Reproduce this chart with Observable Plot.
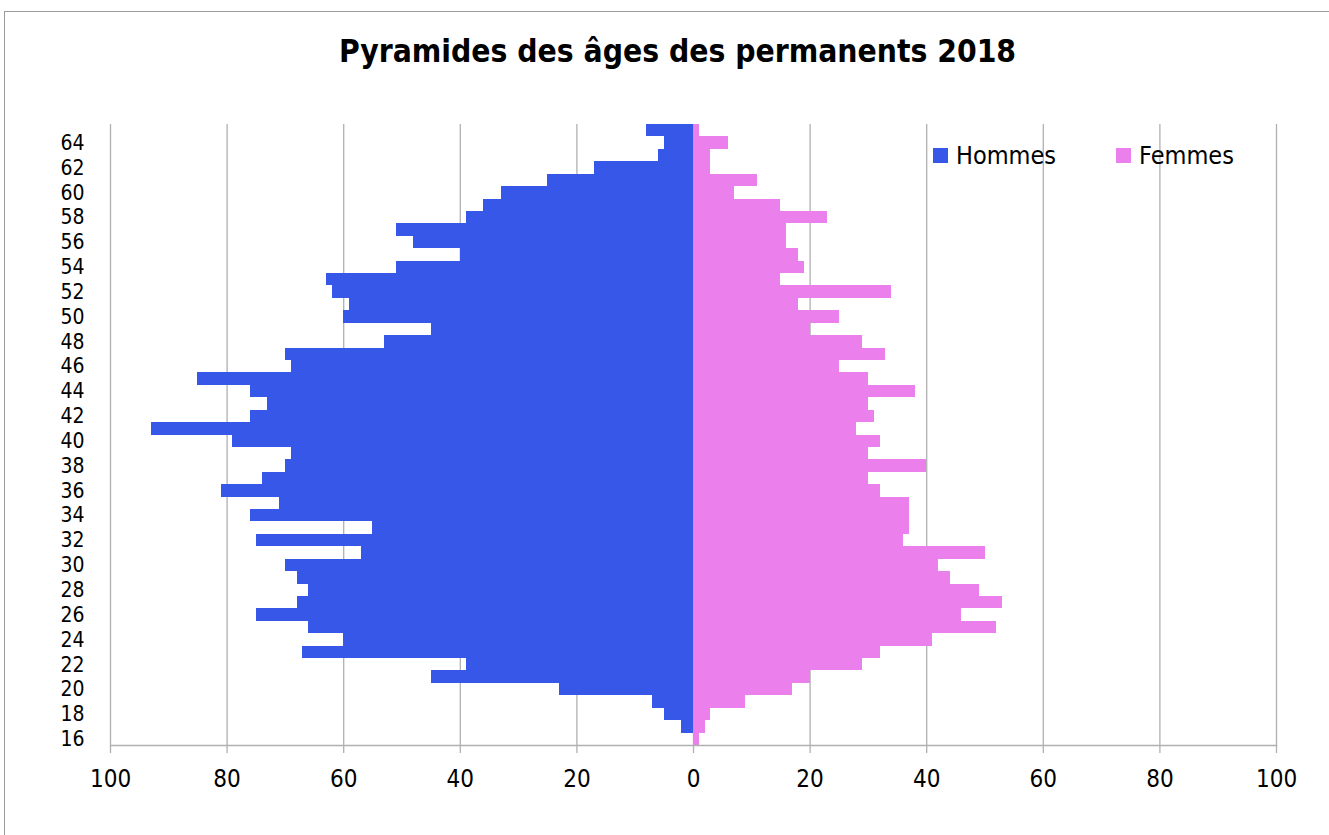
<!DOCTYPE html>
<html>
<head>
<meta charset="utf-8">
<script src="https://cdn.jsdelivr.net/npm/d3@7"></script>
<script src="https://cdn.jsdelivr.net/npm/@observablehq/plot@0.6"></script>
<style>
  body { margin: 0; background: #fff; }
  #wrap { position: relative; width: 1329px; height: 835px; overflow: hidden; background: #fff;
          font-family: "DejaVu Sans Condensed", "DejaVu Sans", sans-serif; font-stretch: condensed; }
  #border { position: absolute; left: 4px; top: 11px; width: 1340px; height: 840px; border: 1px solid #9a9a9a; box-sizing: border-box; }
  #title { position: relative; height: 100px; line-height: 1; padding-top: 36px; padding-left: 26px; box-sizing: border-box;
           text-align: center; font-weight: bold; font-size: 31.5px; color: #000; }
  #legend { position: absolute; top: 141px; left: 933px; display: flex; font-size: 25px; color: #000; }
  .item { display: flex; align-items: center; }
  .sw { width: 15px; height: 15px; margin-right: 8px; }
  #chart { position: relative; }
</style>
</head>
<body>
<div id="wrap">
  <div id="border"></div>
  <div id="title">Pyramides des âges des permanents 2018</div>
  <div id="chart"></div>
  <div id="legend"></div>
</div>
<script>
// Categories (ages), bottom to top
const ages = [16,17,18,19,20,21,22,23,24,25,26,27,28,29,30,31,32,33,34,35,36,37,38,39,40,
              41,42,43,44,45,46,47,48,49,50,51,52,53,54,55,56,57,58,59,60,61,62,63,64,65];
// Series values
const hommes = [0,2,5,7,23,45,39,67,60,66,75,68,66,68,70,57,75,55,76,71,81,74,70,69,79,
                93,76,73,76,85,69,70,53,45,60,59,62,63,51,40,48,51,39,36,33,25,17,6,5,8];
const femmes = [1,2,3,9,17,20,29,32,41,52,46,53,49,44,42,50,36,37,37,37,32,30,40,30,32,
                28,31,30,38,30,25,33,29,20,25,18,34,15,19,18,16,16,23,15,7,11,3,3,6,1];
const seriesNames = ["Hommes", "Femmes"];
const seriesColors = ["#3657e8", "#eb80ec"];
// Tick labels
const xTicks = [-100,-80,-60,-40,-20,0,20,40,60,80,100];
const yTicks = [16,18,20,22,24,26,28,30,32,34,36,38,40,42,44,46,48,50,52,54,56,58,60,62,64];

const rows = [];
ages.forEach((a, i) => {
  rows.push({age: a, sexe: seriesNames[0], v: -hommes[i]});
  rows.push({age: a, sexe: seriesNames[1], v: femmes[i]});
});

const plot = Plot.plot({
  width: 1329,
  height: 735,
  marginTop: 24,
  marginBottom: 90,
  marginLeft: 110,
  marginRight: 53,
  style: {fontFamily: '"DejaVu Sans Condensed", "DejaVu Sans", sans-serif', fontSize: "24px", color: "#000", background: "transparent", fontStretch: "condensed"},
  x: {domain: [-100, 100], axis: null, label: null},
  y: {domain: ages.slice().reverse(), padding: 0, round: false, axis: null, label: null},
  color: {domain: seriesNames, range: seriesColors},
  marks: [
    Plot.ruleX(xTicks, {x: d => d, stroke: "#b0b0b0", strokeWidth: 1.3, insetBottom: -8}),
    Plot.barX(rows, {x: "v", y: "age", fill: "sexe", inset: 0, shapeRendering: "crispEdges"}),
    Plot.frame({anchor: "bottom", stroke: "#b0b0b0", strokeWidth: 1.3}),
    Plot.axisX({ticks: xTicks, tickSize: 0, tickPadding: 24, tickFormat: d => Math.abs(d), fill: "#000", label: null}),
    Plot.axisY({ticks: yTicks, tickSize: 0, tickPadding: 26, fill: "#000", anchor: "left", label: null, fontSize: 21})
  ]
});
document.getElementById("chart").appendChild(plot);

const legend = document.getElementById("legend");
seriesNames.forEach((n, i) => {
  const it = document.createElement("div");
  it.className = "item";
  it.style.marginRight = i === 0 ? "60px" : "0";
  const sw = document.createElement("div");
  sw.className = "sw";
  sw.style.background = seriesColors[i];
  const t = document.createElement("span");
  t.textContent = n;
  it.appendChild(sw); it.appendChild(t);
  legend.appendChild(it);
});
</script>
</body>
</html>
